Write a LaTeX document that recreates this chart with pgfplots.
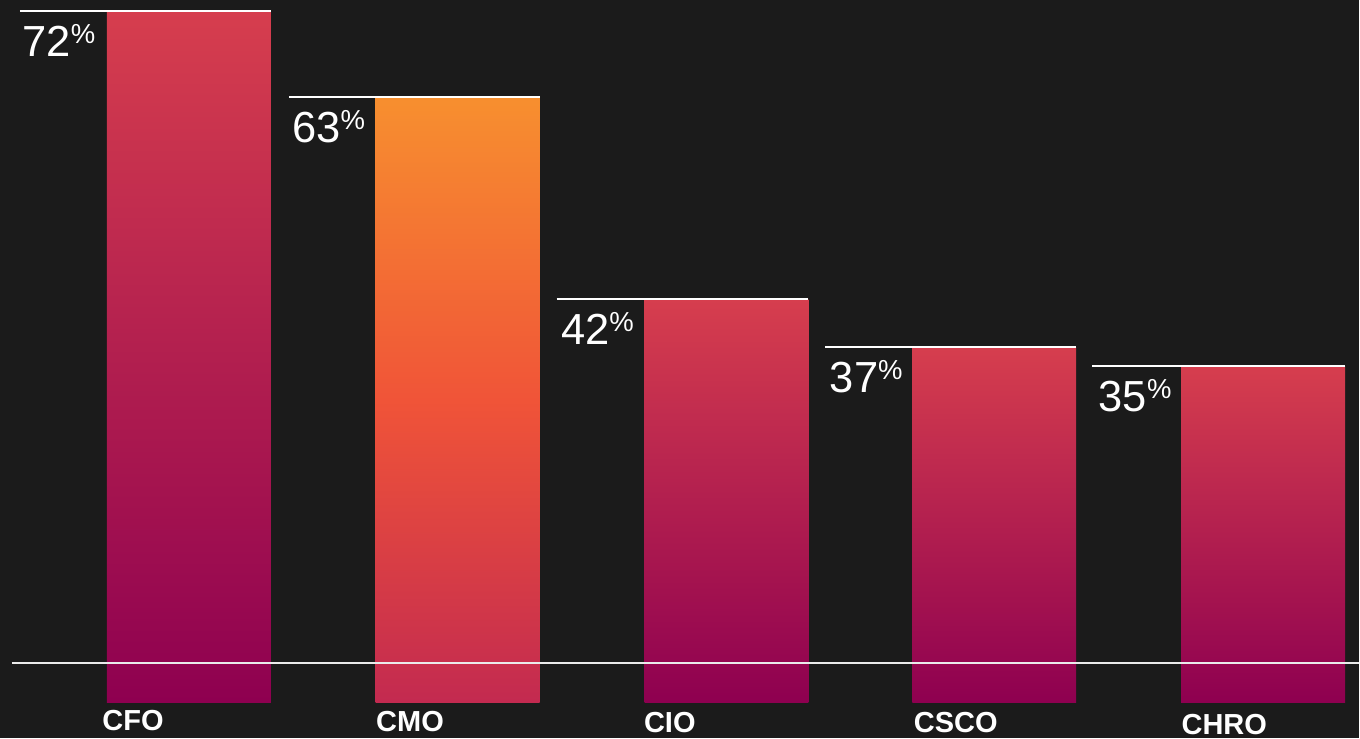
\documentclass[border=0pt]{standalone}
\usepackage{pgfplots}
\pgfplotsset{compat=1.18}
\usepackage{fontspec}
\setmainfont{Liberation Sans}
\definecolor{bgc}{RGB}{27,27,27}
\definecolor{rtop}{RGB}{214,62,78}
\definecolor{rbot}{RGB}{142,0,80}
\definecolor{otop}{RGB}{247,143,47}
\definecolor{omid}{RGB}{240,84,56}
\definecolor{obot}{RGB}{195,42,80}
\newcommand{\pct}[1]{{\fontsize{17.4}{17.4}\selectfont #1\raisebox{5pt}{\fontsize{11}{11}\selectfont\%}}}
\newcommand{\cat}[1]{{\fontsize{11.6}{11.6}\selectfont\bfseries #1}}
\begin{document}
\begin{tikzpicture}
\fill[bgc] (0,0) rectangle (544pt,295.6pt);
\begin{axis}[
  at={(0,0)}, anchor=south west,
  scale only axis, width=544pt, height=295.6pt,
  xmin=0, xmax=1360, ymin=-3.746, ymax=73.15,
  hide axis, clip=false,
]
\addplot[ybar, bar shift=0pt, bar width=164, draw=none, top color=rtop, bottom color=rbot] coordinates {(189,72)};
\addplot[ybar, bar shift=0pt, bar width=164, draw=none, top color=otop, bottom color=obot, middle color=omid] coordinates {(458,63)};
\addplot[ybar, bar shift=0pt, bar width=164, draw=none, top color=rtop, bottom color=rbot] coordinates {(727,42)};
\addplot[ybar, bar shift=0pt, bar width=164, draw=none, top color=rtop, bottom color=rbot] coordinates {(995,37)};
\addplot[ybar, bar shift=0pt, bar width=164, draw=none, top color=rtop, bottom color=rbot] coordinates {(1264,35)};
% top lines
\addplot[white, line width=0.8pt, mark=none] coordinates {(20,72) (271,72)};
\addplot[white, line width=0.8pt, mark=none] coordinates {(289,63) (540,63)};
\addplot[white, line width=0.8pt, mark=none] coordinates {(557,42) (809,42)};
\addplot[white, line width=0.8pt, mark=none] coordinates {(826,37) (1077,37)};
\addplot[white, line width=0.8pt, mark=none] coordinates {(1093,35) (1346,35)};
% baseline
\addplot[white!92!black, line width=0.8pt, mark=none] coordinates {(12,4.11) (1360,4.11)};
% value labels
\node[anchor=base west, inner sep=0pt, text=white, yshift=-18pt] at (axis cs:22,72) {\pct{72}};
\node[anchor=base west, inner sep=0pt, text=white, yshift=-18pt] at (axis cs:292,63) {\pct{63}};
\node[anchor=base west, inner sep=0pt, text=white, yshift=-18pt] at (axis cs:561,42) {\pct{42}};
\node[anchor=base west, inner sep=0pt, text=white, yshift=-18pt] at (axis cs:830,37) {\pct{37}};
\node[anchor=base west, inner sep=0pt, text=white, yshift=-18pt] at (axis cs:1099,35) {\pct{35}};
% category labels
\node[anchor=base west, inner sep=0pt, text=white, yshift=-11.4pt] at (axis cs:102,0) {\cat{CFO}};
\node[anchor=base west, inner sep=0pt, text=white, yshift=-11.8pt] at (axis cs:376,0) {\cat{CMO}};
\node[anchor=base west, inner sep=0pt, text=white, yshift=-12pt] at (axis cs:644,0) {\cat{CIO}};
\node[anchor=base west, inner sep=0pt, text=white, yshift=-12pt] at (axis cs:914,0) {\cat{CSCO}};
\node[anchor=base west, inner sep=0pt, text=white, yshift=-12.8pt] at (axis cs:1182,0) {\cat{CHRO}};
\end{axis}
\end{tikzpicture}
\end{document}
